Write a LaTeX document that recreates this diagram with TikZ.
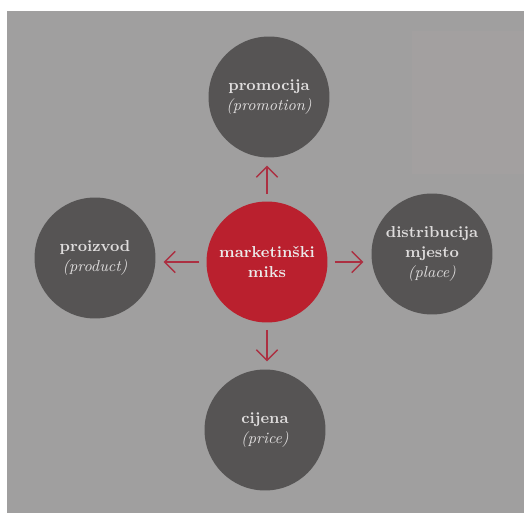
\documentclass[tikz,border=0pt]{standalone}
\usepackage{tikz}
\usetikzlibrary{arrows.meta,calc}

\definecolor{pagegray}{RGB}{160,159,159}
\definecolor{boxgray}{RGB}{163,160,160}
\definecolor{discgray}{RGB}{86,84,84}
\definecolor{mixred}{RGB}{186,32,46}
\definecolor{arrowred}{RGB}{172,48,66}
\definecolor{textgray}{RGB}{222,220,220}

\tikzset{
    disc/.style={circle, fill=discgray, minimum size=2.42cm, inner sep=0pt, align=center,
        text=textgray, font=\fontsize{9}{11.5}\selectfont},
    mixdisc/.style={disc, fill=mixred, text=textgray!60!white},
    mixarrow/.style={draw=arrowred, line width=0.8pt, -{Straight Barb[length=6pt, width=12pt, line width=0.8pt]},
        shorten <=4pt, shorten >=4.5pt}
}

\begin{document}
\begin{tikzpicture}[x=0.02cm, y=-0.02cm]
    %page
    \useasboundingbox (0,0) rectangle (524,513);
    \fill[white] (0,0) rectangle (524,513);
    \fill[pagegray] (7,11) rectangle (524,513);
    \fill[boxgray] (412,31) rectangle (524,174);

    %coordinates
    \coordinate (mid) at (267,262);

    %nodes
    \node[mixdisc] (mix) at (mid) {\textbf{marketinški}\\\textbf{miks}};
    \node[disc] (promo) at ($(mid) + (2,-165)$) {\textbf{promocija}\\\textit{(promotion)}};
    \node[disc] (prod) at ($(mid) + (-172,-4)$) {\textbf{proizvod}\\\textit{(product)}};
    \node[disc] (place) at ($(mid) + (165,-8)$) {\textbf{distribucija}\\\textbf{mjesto}\\\textit{(place)}};
    \node[disc] (price) at ($(mid) + (-2,168)$) {\textbf{cijena}\\\textit{(price)}};

    %edges
    \draw[mixarrow] (mix.north) -- (mix.north |- promo.south);
    \draw[mixarrow] (mix.west) -- (mix.west -| prod.east);
    \draw[mixarrow] (mix.east) -- (mix.east -| place.west);
    \draw[mixarrow] (mix.south) -- (mix.south |- price.north);
\end{tikzpicture}
\end{document}
